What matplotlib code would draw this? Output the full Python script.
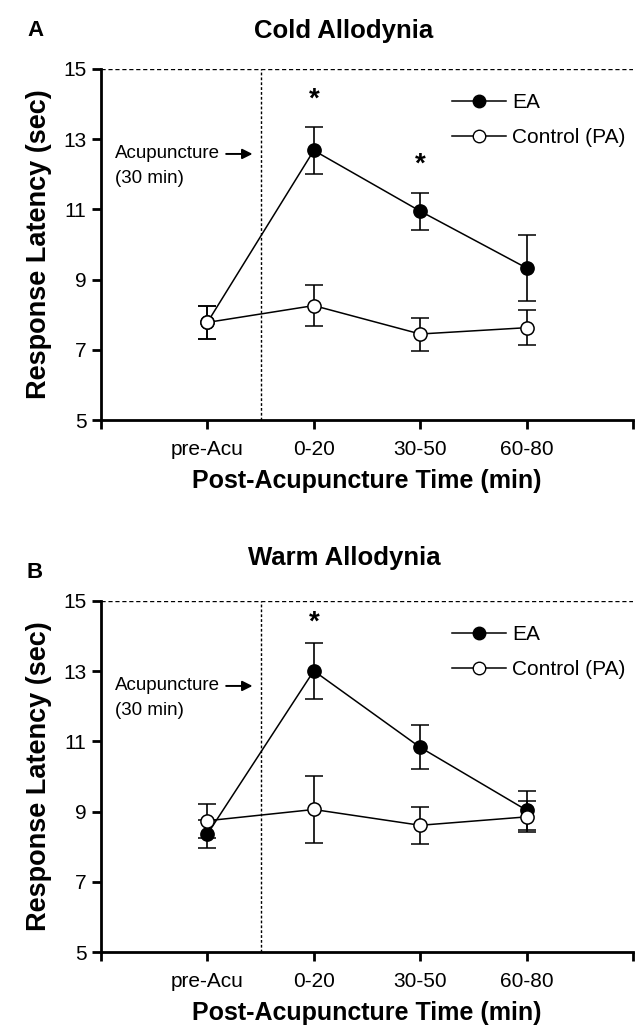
import matplotlib
matplotlib.use("Agg")
import matplotlib.pyplot as plt
from matplotlib.lines import Line2D
import numpy as np

plt.rcParams['font.family'] = ['Liberation Sans', 'DejaVu Sans']

categories = ["pre-Acu", "0-20", "30-50", "60-80"]

# Panel A: Cold Allodynia
cold_ea = [7.78, 12.68, 10.95, 9.33]
cold_ea_err = [0.47, 0.66, 0.53, 0.94]
cold_pa = [7.78, 8.26, 7.45, 7.63]
cold_pa_err = [0.48, 0.58, 0.47, 0.49]
cold_stars = [(1, 14.12), (2, 12.27)]

# Panel B: Warm Allodynia
warm_ea = [8.36, 13.01, 10.83, 9.04]
warm_ea_err = [0.40, 0.80, 0.63, 0.56]
warm_pa = [8.74, 9.06, 8.61, 8.85]
warm_pa_err = [0.49, 0.96, 0.52, 0.44]
warm_stars = [(1, 14.37)]

yticks = [5, 7, 9, 11, 13, 15]

fig = plt.figure(figsize=(6.4, 10.31), dpi=100)
W, H = 640, 1031

def px_axes(left, top, right, bottom):
    return fig.add_axes([left / W, 1 - bottom / H, (right - left) / W, (bottom - top) / H])

axA = px_axes(101, 69, 633, 420)
axB = px_axes(101, 601, 633, 952)

def draw(ax, ea, ea_err, pa, pa_err, stars, title, letter, title_y, letter_y):
    x = np.arange(1, len(categories) + 1)
    ax.set_xlim(0, 5)
    ax.set_ylim(5, 15)
    ax.axhline(15, color='black', lw=1.0, ls=(0, (3, 2)), zorder=1)
    ax.axvline(1.5, color='black', lw=1.0, ls=(0, (2, 1.5)), zorder=1)
    ax.errorbar(x, ea, yerr=ea_err, color='black', lw=1.1, marker='o',
                markersize=9.5, markerfacecolor='black', markeredgecolor='black',
                markeredgewidth=1.1, capsize=6.5, capthick=1.2, elinewidth=1.2,
                zorder=3)
    ax.errorbar(x, pa, yerr=pa_err, color='black', lw=1.1, marker='o',
                markersize=9.5, markerfacecolor='white', markeredgecolor='black',
                markeredgewidth=1.1, capsize=6.5, capthick=1.2, elinewidth=1.2,
                zorder=4)
    for sx, sy in stars:
        ax.text(x[sx], sy, '*', ha='center', va='center', fontsize=20, fontweight='bold')
    ax.spines['top'].set_visible(False)
    ax.spines['right'].set_visible(False)
    ax.spines['left'].set_linewidth(2.0)
    ax.spines['bottom'].set_linewidth(2.0)
    ax.set_xticks([0, 1, 2, 3, 4, 5])
    ax.set_xticklabels([''] + categories + [''])
    ax.set_yticks(yticks)
    ax.tick_params(axis='both', direction='out', length=6.5, width=2.0, labelsize=15)
    ax.tick_params(axis='x', pad=8)
    ax.tick_params(axis='y', pad=4)
    ax.set_ylabel('Response Latency (sec)', fontsize=19.5, fontweight='bold', labelpad=8)
    ax.set_xlabel('Post-Acupuncture Time (min)', fontsize=18, fontweight='bold', labelpad=7)
    h_ea = Line2D([], [], color='black', lw=1.1, marker='o', markersize=9,
                  markerfacecolor='black', markeredgecolor='black')
    h_pa = Line2D([], [], color='black', lw=1.1, marker='o', markersize=9,
                  markerfacecolor='white', markeredgecolor='black')
    ax.legend([h_ea, h_pa], ['EA', 'Control (PA)'],
              loc='upper left', bbox_to_anchor=(0.64, 0.96), frameon=False,
              fontsize=15, handlelength=2.6, handletextpad=0.3, borderpad=0,
              labelspacing=0.75)
    ax.annotate('', xy=(1.45, 12.58), xytext=(1.15, 12.58),
                arrowprops=dict(arrowstyle='-|>', color='black', lw=1.4, mutation_scale=15))
    ax.text(0.13, 12.58, 'Acupuncture', fontsize=13.5, ha='left', va='center')
    ax.text(0.13, 11.87, '(30 min)', fontsize=13.5, ha='left', va='center')
    fig.text(344 / W, 1 - title_y / H, title, fontsize=18.5, fontweight='bold',
             ha='center', va='center')
    fig.text(35 / W, 1 - letter_y / H, letter, fontsize=16, fontweight='bold',
             ha='center', va='center')

draw(axA, cold_ea, cold_ea_err, cold_pa, cold_pa_err, cold_stars,
     'Cold Allodynia', 'A', 31, 31)
draw(axB, warm_ea, warm_ea_err, warm_pa, warm_pa_err, warm_stars,
     'Warm Allodynia', 'B', 558, 572)

fig.savefig('out.png', dpi=100)
